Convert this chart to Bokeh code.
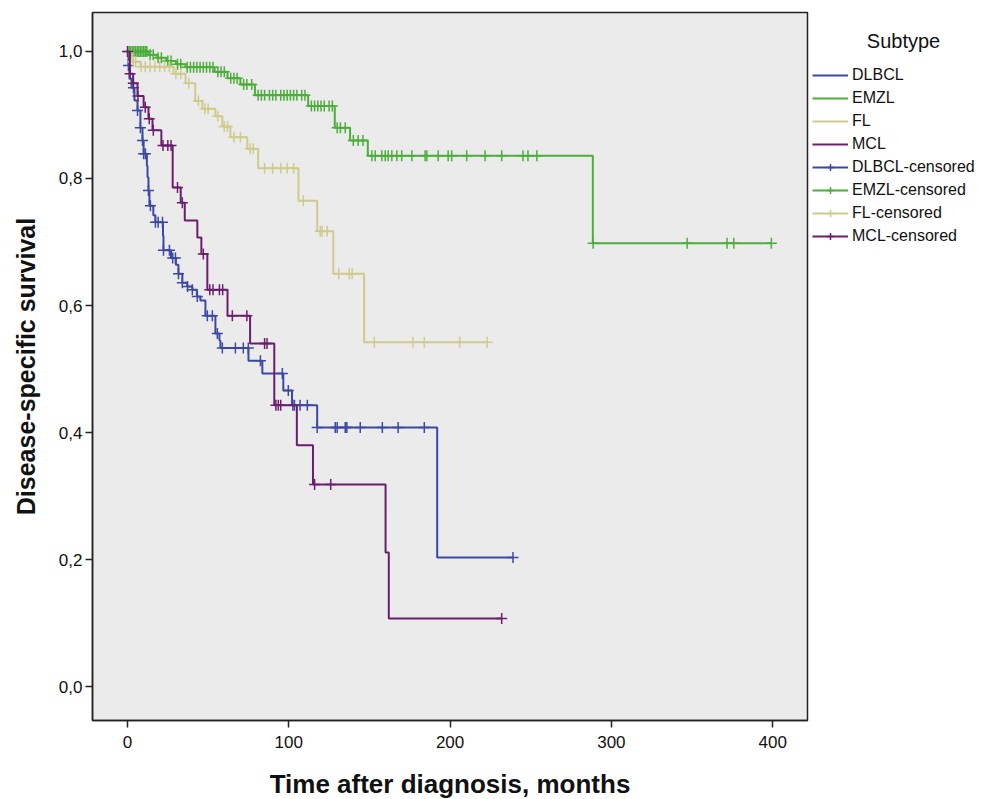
import numpy as np
from bokeh.plotting import figure
from bokeh.layouts import row
from bokeh.models import (Range1d, FixedTicker, CustomJSTickFormatter, Legend,
                          LegendItem, Label)
from bokeh.embed import file_html
from bokeh.resources import INLINE

# ---------------- data ----------------
subtypes = ["DLBCL", "EMZL", "FL", "MCL"]
colors = ["#3C48A6", "#4BAE3A", "#CFCB8C", "#6B1E6E"]

dlbcl_times = [0, 0.6, 1.2, 2.5, 4.3, 6.2, 8.0, 9.3, 10.0, 12.0, 12.4, 13.0, 13.6,
               16.0, 17.3, 22.0, 22.3, 27.0, 30.0, 31.6, 34.0, 37.0, 40.2, 43.0,
               45.2, 48.3, 54.5, 57.0, 57.6, 75.0, 83.6, 96.6, 102.0, 117.6, 192.0]
dlbcl_surv = [1.0, 0.978, 0.957, 0.943, 0.923, 0.907, 0.880, 0.860, 0.839, 0.820,
              0.802, 0.781, 0.757, 0.742, 0.731, 0.710, 0.687, 0.675, 0.664, 0.650,
              0.636, 0.630, 0.625, 0.614, 0.608, 0.584, 0.556, 0.545, 0.533, 0.513,
              0.493, 0.466, 0.443, 0.408, 0.203]
dlbcl_end = 239
dlbcl_censor = [0.6, 3.7, 6.2, 8.0, 9.3, 10.0, 11.1, 13.0, 14.2, 17.3, 19.0, 21.7,
                22.3, 26.0, 28.0, 29.7, 31.6, 34.0, 37.2, 40.2, 43.3, 49.5, 52.6,
                55.7, 58.8, 66.9, 71.8, 74.9, 82.4, 96.0, 99.7, 102.5, 103.5, 107.0,
                111.5, 117.6, 128.8, 130.0, 135.0, 136.0, 144.3, 158.0, 167.8, 184.0,
                239.0]

emzl_times = [0, 13, 18, 24, 30, 36, 54, 62, 70, 79, 112, 128.5, 138, 149, 288.5]
emzl_surv = [1.0, 0.995, 0.990, 0.985, 0.980, 0.975, 0.968, 0.958, 0.948, 0.931,
             0.914, 0.880, 0.860, 0.836, 0.698]
emzl_end = 399
emzl_censor = [1, 2, 3, 4, 5, 6, 7, 8, 9, 10, 11, 12, 14, 16, 19, 21, 25, 27, 31, 33,
               37, 39, 41, 43, 45, 47, 49, 51, 53, 56, 58, 60, 64, 66, 68, 72, 74, 77,
               81, 83, 85, 88, 90, 92, 95, 97, 99, 101, 103, 105, 108, 110, 114, 116,
               118, 120, 122, 125, 127, 130, 132, 135, 140, 143, 146, 151.5, 153.6,
               157.7, 159.8, 161.6, 163.9, 167, 170, 176.3, 184.5, 185.6, 192.6, 198.8,
               201, 210.3, 221.7, 232, 245.2, 248.3, 253.8, 288.7, 347, 371.7, 375.9,
               399.2]

fl_times = [0, 3, 8, 28.5, 36, 42, 46.4, 54.5, 58.8, 63.8, 74.3, 81, 106, 117.6,
            127.6, 146.7]
fl_surv = [1.0, 0.984, 0.976, 0.965, 0.950, 0.922, 0.910, 0.898, 0.882, 0.865,
           0.847, 0.816, 0.765, 0.717, 0.650, 0.542]
fl_end = 223
fl_censor = [3.5, 5, 8.5, 11, 14, 17, 20, 23, 26, 30, 33, 38, 44, 48, 50, 56, 60, 62,
             66, 70, 76, 78, 85, 90, 95, 99, 103, 109, 119.5, 120.7, 123.8, 131,
             137.5, 139.3, 153, 177, 184, 206, 223]

mcl_times = [0, 1.5, 3.5, 6.2, 10, 13, 15.5, 21, 28, 33, 35.5, 43.3, 45.8, 49.5, 62,
             76, 91, 105, 115, 160, 162]
mcl_surv = [1.0, 0.965, 0.95, 0.93, 0.912, 0.894, 0.876, 0.852, 0.786, 0.762, 0.734,
            0.707, 0.681, 0.625, 0.584, 0.540, 0.443, 0.38, 0.318, 0.211, 0.107]
mcl_end = 232
mcl_censor = [0, 1.6, 3.6, 6.5, 11, 13.5, 16, 22, 25, 27, 31, 34, 47, 51, 53, 57, 59,
              65, 74, 85, 86.5, 92, 93.5, 95, 116, 126, 232]

x_ticks = [0, 100, 200, 300, 400]
y_ticks = [0.0, 0.2, 0.4, 0.6, 0.8, 1.0]
legend_title = "Subtype"

curves = [
    (dlbcl_times, dlbcl_surv, dlbcl_end, dlbcl_censor),
    (emzl_times, emzl_surv, emzl_end, emzl_censor),
    (fl_times, fl_surv, fl_end, fl_censor),
    (mcl_times, mcl_surv, mcl_end, mcl_censor),
]

FONT = "Liberation Sans, Arial, sans-serif"
TOP, FRAME_H, BOTTOM = 12, 708, 75

# ---------------- main plot ----------------
p = figure(frame_width=715, frame_height=FRAME_H, min_border_left=92, min_border_right=2,
           min_border_top=TOP, min_border_bottom=BOTTOM,
           x_range=Range1d(-21.7, 421.6), y_range=Range1d(-0.0535, 1.0614),
           output_backend="svg", toolbar_location=None)

p.background_fill_color = "#EBEBEB"
p.border_fill_color = "white"
p.outline_line_color = "#222222"
p.outline_line_width = 1.5
p.xgrid.visible = False
p.ygrid.visible = False

for ax in (p.xaxis[0], p.yaxis[0]):
    ax.axis_line_color = "#222222"
    ax.axis_line_width = 1.5
    ax.major_tick_line_color = "#222222"
    ax.major_tick_line_width = 1.5
    ax.major_tick_in = 0
    ax.major_tick_out = 7
    ax.minor_tick_line_color = None
    ax.major_label_text_font = FONT
    ax.major_label_text_font_size = "17px"
    ax.major_label_text_color = "#111111"
    ax.axis_label_text_font = FONT
    ax.axis_label_text_font_style = "bold"
    ax.axis_label_text_color = "#111111"

p.xaxis.axis_label_text_font_size = "26px"
p.yaxis.axis_label_text_font_size = "25px"
p.xaxis.ticker = FixedTicker(ticks=x_ticks)
p.yaxis.ticker = FixedTicker(ticks=y_ticks)
p.yaxis.formatter = CustomJSTickFormatter(code="return tick.toFixed(1).replace('.', ',');")
p.xaxis.axis_label = "Time after diagnosis, months"
p.yaxis.axis_label = "Disease-specific survival"
p.xaxis.major_label_standoff = 8
p.yaxis.major_label_standoff = 3
p.xaxis.axis_label_standoff = 18
p.yaxis.axis_label_standoff = 16

# ---------------- legend panel (second figure, same frame height) ----------------
q = figure(frame_width=183, frame_height=FRAME_H,
           min_border_left=0, min_border_right=0,
           min_border_top=TOP, min_border_bottom=BOTTOM,
           x_range=Range1d(1000, 1001), y_range=Range1d(1000, 1001),
           x_axis_location=None, y_axis_location=None,
           output_backend="svg", toolbar_location=None)
q.grid.visible = False
q.outline_line_color = None
q.background_fill_color = "white"
q.border_fill_color = "white"

curve_items = []
censor_items = []
for name, col, (t, s, end, cens) in zip(subtypes, colors, curves):
    xs = list(t) + [end]
    ys = list(s) + [s[-1]]
    p.step(xs, ys, mode="after", line_color=col, line_width=2)
    idx = np.searchsorted(np.array(t), np.array(cens), side="right") - 1
    cy = np.array(s)[idx]
    p.scatter(cens, cy, marker="cross", size=11, line_color=col, line_width=1.5)

    # legend proxies in the legend panel (same data, outside its visible range)
    lstep = q.step(xs, ys, mode="after", line_color=col, line_width=2)
    lcross = q.scatter(cens, cy, marker="cross", size=13, line_color=col, line_width=1.5)
    curve_items.append(LegendItem(label=name, renderers=[lstep]))
    censor_items.append(LegendItem(label=name + "-censored", renderers=[lstep, lcross]))

LEG_H = 2 * 3 + 8 * 18 + 7 * 5
legend = Legend(items=curve_items + censor_items,
                location=(3, FRAME_H - (60 - TOP) - LEG_H))
legend.margin = 0
legend.padding = 3
legend.spacing = 5
legend.glyph_width = 36
legend.glyph_height = 18
legend.label_height = 18
legend.label_standoff = 4
legend.label_text_font = FONT
legend.label_text_font_size = "16px"
legend.label_text_color = "#111111"
legend.border_line_color = None
legend.background_fill_alpha = 0
q.add_layout(legend)

title_lbl = Label(x=94, y=FRAME_H - (40 - TOP), x_units="screen", y_units="screen",
                  text=legend_title, text_align="center", text_baseline="middle",
                  text_font=FONT, text_font_size="20px", text_color="#111111")
q.add_layout(title_lbl)

layout = row(p, q)
open("out.html", "w").write(file_html(layout, INLINE))
